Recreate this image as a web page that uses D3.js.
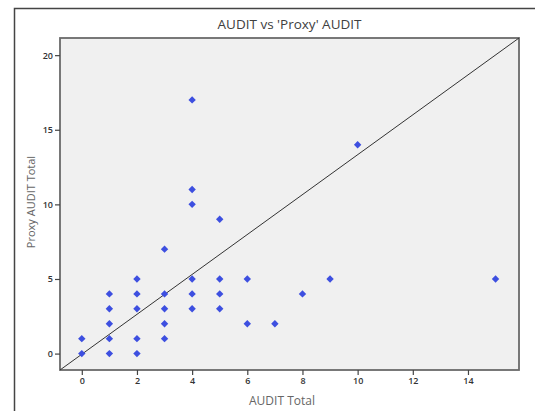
<!DOCTYPE html>
<html>
<head>
<meta charset="utf-8">
<script src="https://cdn.jsdelivr.net/npm/d3@7"></script>
<style>
  body { margin: 0; background: #fff; }
  text { font-family: "Open Sans", "Noto Sans", sans-serif; }
</style>
</head>
<body>
<div id="chart"></div>
<script>
// AUDIT total vs proxy AUDIT total
var auditTotal = [0, 0, 1, 1, 1, 1, 1, 2, 2, 2, 2, 2, 3, 3, 3, 3, 3,
  4, 4, 4, 4, 4, 4, 5, 5, 5, 5, 6, 6, 7, 8, 9, 10, 15];
var proxyTotal = [0, 1, 0, 1, 2, 3, 4, 0, 1, 3, 4, 5, 1, 2, 3, 4, 7,
  3, 4, 5, 10, 11, 17, 3, 4, 5, 9, 2, 5, 2, 4, 5, 14, 5];
var xTicks = [0, 2, 4, 6, 8, 10, 12, 14];
var yTicks = [0, 5, 10, 15, 20];
var xDomain = [-0.79, 15.85];
var yDomain = [-1.1, 21.15];

var width = 535, height = 411;
var margin = {top: 38, right: 16, bottom: 41, left: 60};

var svg = d3.select("#chart").append("svg")
  .attr("width", width)
  .attr("height", height);

// outer frame
svg.append("path")
  .attr("d", "M14.5," + height + "V8.5H" + width)
  .attr("fill", "none")
  .attr("stroke", "#444")
  .attr("stroke-width", 1.5);

var x = d3.scaleLinear().domain(xDomain).range([margin.left, width - margin.right]);
var y = d3.scaleLinear().domain(yDomain).range([height - margin.bottom, margin.top]);

svg.append("rect")
  .attr("x", x(xDomain[0]))
  .attr("y", y(yDomain[1]))
  .attr("width", x(xDomain[1]) - x(xDomain[0]))
  .attr("height", y(yDomain[0]) - y(yDomain[1]))
  .attr("fill", "#f0f0f0")
  .attr("stroke", "#6a6a6a")
  .attr("stroke-width", 1.8);

// reference line corner to corner
svg.append("line")
  .attr("x1", x(xDomain[0])).attr("y1", y(yDomain[0]))
  .attr("x2", x(xDomain[1])).attr("y2", y(yDomain[1]))
  .attr("stroke", "#333")
  .attr("stroke-width", 1);

var xAxis = svg.append("g")
  .attr("transform", "translate(0," + y(yDomain[0]) + ")")
  .call(d3.axisBottom(x).tickValues(xTicks).tickSize(5).tickPadding(3));

var yAxis = svg.append("g")
  .attr("transform", "translate(" + x(xDomain[0]) + ",0)")
  .call(d3.axisLeft(y).tickValues(yTicks).tickSize(5).tickPadding(2));

[xAxis, yAxis].forEach(function (g) {
  g.select(".domain").remove();
  g.selectAll(".tick line").attr("stroke", "#444").attr("stroke-width", 1.2);
  g.selectAll(".tick text")
    .attr("fill", "#333")
    .style("font-size", "9px")
    .style("font-weight", "600");
});

var pts = auditTotal.map(function (d, i) { return [d, proxyTotal[i]]; });
svg.append("g").selectAll("path")
  .data(pts)
  .enter().append("path")
  .attr("transform", function (d) { return "translate(" + x(d[0]) + "," + y(d[1]) + ")"; })
  .attr("d", "M0,-3.7L3.7,0L0,3.7L-3.7,0Z")
  .attr("fill", "#3d4fe0");

svg.append("text")
  .attr("x", (x(xDomain[0]) + x(xDomain[1])) / 2)
  .attr("y", 29)
  .attr("text-anchor", "middle")
  .attr("fill", "#404040")
  .style("font-size", "13.5px")
  .text("AUDIT vs 'Proxy' AUDIT");

svg.append("text")
  .attr("x", 282)
  .attr("y", 405)
  .attr("text-anchor", "middle")
  .attr("fill", "#666")
  .style("font-size", "12px")
  .text("AUDIT Total");

svg.append("text")
  .attr("transform", "translate(35,202) rotate(-90)")
  .attr("text-anchor", "middle")
  .attr("fill", "#666")
  .style("font-size", "11px")
  .text("Proxy AUDIT Total");
</script>
</body>
</html>
